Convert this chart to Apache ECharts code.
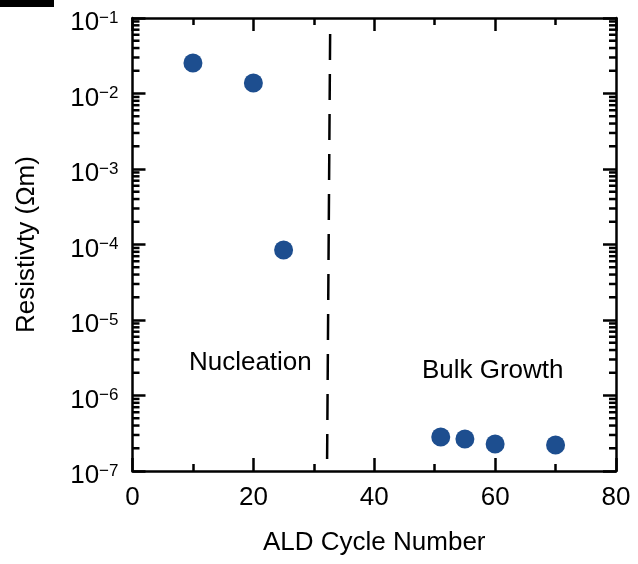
<!DOCTYPE html>
<html>
<head>
<meta charset="utf-8">
<script src="https://cdn.jsdelivr.net/npm/echarts@6/dist/echarts.min.js"></script>
<style>html,body{margin:0;padding:0;background:#fff;}#c{width:638px;height:564px;}</style>
</head>
<body>
<div id="c"></div>
<script>
// ---- data ----
const cycles = [10, 20, 25, 51, 55, 60, 70];
const resistivity = [0.0254, 0.0138, 8.45e-5, 2.82e-7, 2.65e-7, 2.28e-7, 2.21e-7];
const dividerLine = [[32.7, 0.0614], [32.2, 1.44e-7]];
const annotationLabels = ['Nucleation', 'Bulk Growth'];
const annotationX = [19.5, 59.6];
const annotationY = [2.73e-6, 2.11e-6];
const xTicks = [0, 20, 40, 60, 80];
const yDecades = [-7, -6, -5, -4, -3, -2, -1];

const FONT = '"Liberation Sans", Arial, Helvetica, sans-serif';
const minorValues = [];
for (let e = -7; e < -1; e++) {
  for (let k = 2; k <= 9; k++) minorValues.push([k * Math.pow(10, e)]);
}

const chart = echarts.init(document.getElementById('c'));
const axisLineStyle = { color: '#000', width: 2.5 };
const xCommon = {
  type: 'value', min: xTicks[0], max: xTicks[xTicks.length - 1], interval: 20,
  axisLine: { show: true, onZero: false, lineStyle: axisLineStyle },
  axisTick: { show: true, inside: true, length: 13, lineStyle: { color: '#000', width: 2.5 } },
  minorTick: { show: true, splitNumber: 2, length: 7, lineStyle: { color: '#000', width: 2.5 } },
  splitLine: { show: false }, minorSplitLine: { show: false }
};
const yCommon = {
  type: 'log', logBase: 10, min: Math.pow(10, yDecades[0]), max: Math.pow(10, yDecades[yDecades.length - 1]),
  interval: 1,
  axisLine: { show: true, onZero: false, lineStyle: axisLineStyle },
  axisTick: { show: true, inside: true, length: 13, lineStyle: { color: '#000', width: 2.5 } },
  splitLine: { show: false }
};

chart.setOption({
  animation: false,
  backgroundColor: '#fff',
  grid: { left: 132.5, right: 22, top: 18, bottom: 93, containLabel: false },
  graphic: [{ type: 'rect', left: 0, top: 0, shape: { width: 54, height: 7 }, style: { fill: '#000' } }],
  xAxis: [
    Object.assign({}, xCommon, {
      position: 'bottom',
      name: 'ALD Cycle Number', nameLocation: 'middle', nameGap: 59,
      nameTextStyle: { fontSize: 26, fontFamily: FONT, color: '#000' },
      axisLabel: { show: true, margin: 14, fontSize: 26, fontFamily: FONT, color: '#000' }
    }),
    Object.assign({}, xCommon, { position: 'top', axisLabel: { show: false } })
  ],
  yAxis: [
    Object.assign({}, yCommon, {
      position: 'left',
      name: 'Resistivty (Ωm)', nameLocation: 'middle', nameGap: 93,
      nameTextStyle: { fontSize: 26, fontFamily: FONT, color: '#000' },
      axisLabel: {
        show: true, margin: 14, padding: [10, 0, 0, 0],
        formatter: function (v) {
          const e = Math.round(Math.log10(v));
          return '{b|10}{s|' + (e < 0 ? '\u2212' : '') + Math.abs(e) + '}';
        },
        rich: {
          b: { fontSize: 26, lineHeight: 27, fontFamily: FONT, color: '#000' },
          s: { fontSize: 17, lineHeight: 16, fontFamily: FONT, color: '#000', verticalAlign: 'top' }
        }
      }
    }),
    Object.assign({}, yCommon, { position: 'right', axisLabel: { show: false } })
  ],
  series: [
    {
      type: 'custom', xAxisIndex: 0, yAxisIndex: 0, silent: true, clip: false,
      data: minorValues,
      encode: { y: 0 },
      renderItem: function (params, api) {
        const v = api.value(0);
        const l = api.coord([xTicks[0], v]);
        const r = api.coord([xTicks[xTicks.length - 1], v]);
        const st = { stroke: '#000', lineWidth: 2.5 };
        return {
          type: 'group', children: [
            { type: 'line', shape: { x1: l[0], y1: l[1], x2: l[0] + 7, y2: l[1] }, style: st },
            { type: 'line', shape: { x1: r[0], y1: r[1], x2: r[0] - 7, y2: r[1] }, style: st }
          ]
        };
      }
    },
    {
      type: 'line', data: dividerLine, symbol: 'none', silent: true,
      lineStyle: { color: '#000', width: 2.5, type: [26, 14] }
    },
    {
      type: 'scatter', data: cycles.map((c, i) => [c, resistivity[i]]),
      symbol: 'circle', symbolSize: 19,
      itemStyle: { color: '#1d4e8f', opacity: 1 }
    },
    {
      type: 'custom', silent: true, clip: false,
      data: annotationLabels.map((t, i) => [annotationX[i], annotationY[i], i]),
      renderItem: function (params, api) {
        const p = api.coord([api.value(0), api.value(1)]);
        return {
          type: 'text', x: p[0], y: p[1],
          style: {
            text: annotationLabels[api.value(2)], fontSize: 26, fontFamily: FONT, fill: '#000',
            align: 'center', verticalAlign: 'middle'
          }
        };
      }
    }
  ]
});
</script>
</body>
</html>
